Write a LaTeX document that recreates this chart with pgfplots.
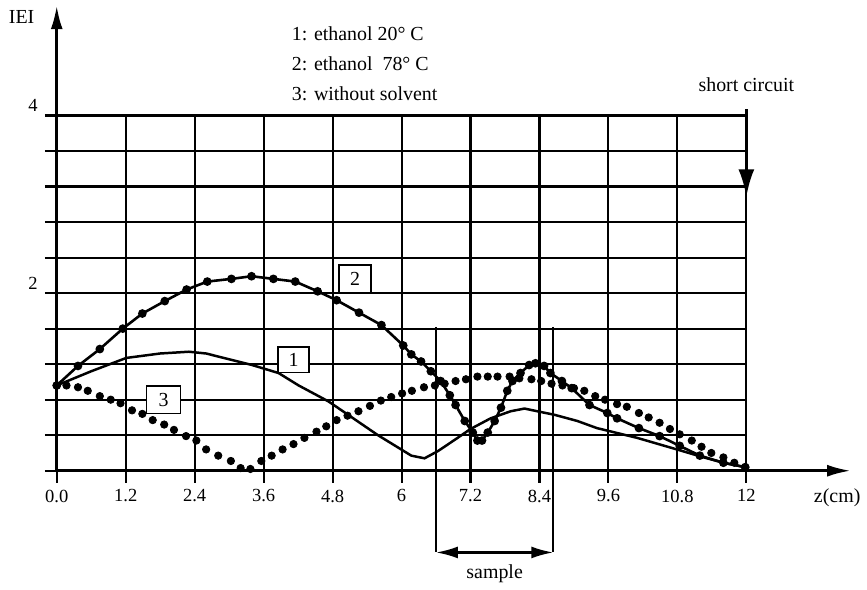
\documentclass[border=0pt]{standalone}
\usepackage{fontspec}
\setmainfont{Liberation Serif}
\usepackage{pgfplots}
\pgfplotsset{compat=1.18}
\usetikzlibrary{arrows.meta}
\newcommand\tf{\fontsize{10}{11.5}\selectfont}
\begin{document}
\begin{tikzpicture}
\begin{axis}[
 x=28.875pt, y=44.625pt,
 xmin=0,xmax=12,ymin=0,ymax=4,
 axis lines=left,
 axis line style={draw=none},
 clip=false,
 grid=major,
 major grid style={line width=1.05pt, black},
 xtick={0,1.2,2.4,3.6,4.8,6,7.2,8.4,9.6,10.8,12},
 xticklabels={0.0,1.2,2.4,3.6,4.8,6,7.2,8.4,9.6,10.8,12},
 ytick={0,0.4,0.8,1.2,1.6,2,2.4,2.8,3.2,3.6,4},
 yticklabels={,,,,,2,,,,,4},
 tick align=outside,
 major tick length=6pt,
 tick style={line width=1.05pt, black},
 ticklabel style={font=\fontsize{9.3}{10}\selectfont},
 yticklabel style={yshift=5pt},
 /pgf/number format/assume math mode=true,
]
% curve 1: ethanol 20 C
\addplot[black, line width=1.25pt] coordinates {
(0,0.96) (0.6,1.12) (1.21,1.27) (1.8,1.32) (2.30,1.34) (2.6,1.32) (3.4,1.19)
(3.86,1.10) (4.21,0.96) (4.73,0.78) (5.59,0.40) (6.17,0.17) (6.40,0.14)
(6.63,0.22) (6.93,0.35) (7.2,0.47) (7.55,0.59) (7.9,0.67) (8.14,0.70)
(8.36,0.67) (8.66,0.63) (9.06,0.56) (9.4,0.48) (10.1,0.37) (10.79,0.24)
(11.26,0.15) (11.6,0.09) (11.98,0.04)};
% curve 2: ethanol 78 C
\addplot[black, line width=1.3pt, mark=*, mark size=1.5pt] coordinates {
(0,0.96) (0.37,1.18) (0.75,1.37) (1.15,1.60) (1.49,1.77) (1.88,1.91) (2.26,2.04)
(2.62,2.13) (3.04,2.16) (3.39,2.19) (3.77,2.16) (4.15,2.13) (4.54,2.02) (4.87,1.92)
(5.26,1.78) (5.65,1.64) (6.03,1.41) (6.17,1.31) (6.34,1.23) (6.51,1.12) (6.68,1.01)
(6.84,0.85) (6.94,0.74) (7.10,0.56) (7.24,0.43) (7.32,0.34) (7.40,0.34) (7.50,0.43)
(7.62,0.56) (7.73,0.71) (7.84,0.90) (7.93,1.01) (8.07,1.10) (8.22,1.19) (8.33,1.21)
(8.48,1.18) (8.59,1.10) (8.79,1.01) (8.96,0.93) (9.27,0.74) (9.58,0.65) (9.75,0.59)
(10.13,0.48) (10.49,0.39) (10.84,0.28) (11.19,0.17) (11.6,0.09) (11.98,0.04)};
% curve 3: without solvent
\addplot[only marks, black, mark=*, mark size=1.85pt] coordinates {
(0,0.96) (0.17,0.96) (0.37,0.94) (0.54,0.90) (0.75,0.84) (0.94,0.80) (1.11,0.76)
(1.31,0.68) (1.49,0.64) (1.67,0.57) (1.87,0.52) (2.04,0.46) (2.25,0.39) (2.43,0.34)
(2.6,0.24) (2.81,0.17) (3.03,0.11) (3.2,0.03) (3.37,0.02) (3.56,0.11) (3.74,0.17)
(3.93,0.24) (4.12,0.30) (4.31,0.37) (4.52,0.44) (4.69,0.50) (4.87,0.57) (5.06,0.62)
(5.25,0.67) (5.45,0.73) (5.64,0.79) (5.82,0.83) (6.01,0.87) (6.18,0.90) (6.39,0.94)
(6.58,0.96) (6.75,0.98) (6.94,1.01) (7.12,1.03) (7.32,1.06) (7.50,1.06) (7.67,1.06)
(7.88,1.06) (8.05,1.04) (8.26,1.03) (8.43,1.01) (8.61,0.98) (8.80,0.96) (9.0,0.93)
(9.18,0.9) (9.37,0.84) (9.54,0.80) (9.75,0.75) (9.92,0.72) (10.13,0.65) (10.3,0.6)
(10.49,0.54) (10.67,0.47) (10.84,0.41) (11.05,0.34) (11.22,0.27) (11.39,0.20)
(11.6,0.15) (11.79,0.09) (11.98,0.04)};
% axes
\draw[line width=1.5pt, -{Latex[length=12pt,width=6pt]}] (axis cs:0,0) -- (axis cs:13.82,0);
\draw[line width=1.5pt, -{Latex[length=12pt,width=6pt]}] (axis cs:0,0) -- (axis cs:0,5.24);
\node[font=\tf] at (axis cs:-0.61,5.11) {IEI};
\node[font=\tf] at (axis cs:13.58,-0.30) {z(cm)};
% short circuit
\draw[line width=1.7pt, -{Latex[length=14pt,width=8pt]}] (axis cs:12,4.07) -- (axis cs:12,3.08);
\node[font=\tf] at (axis cs:12,4.35) {short circuit};
% sample
\draw[line width=1.1pt] (axis cs:6.60,1.62) -- (axis cs:6.60,-0.92);
\draw[line width=1.1pt] (axis cs:8.64,1.62) -- (axis cs:8.64,-0.92);
\draw[line width=1.1pt, {Latex[length=11pt,width=6pt]}-{Latex[length=11pt,width=6pt]}] (axis cs:6.60,-0.92) -- (axis cs:8.64,-0.92);
\node[font=\tf] at (axis cs:7.62,-1.165) {sample};
% legend text
\node[font=\tf, anchor=base west] at (axis cs:3.97,4.84) {1: ethanol 20° C};
\node[font=\tf, anchor=base west] at (axis cs:3.97,4.51) {2: ethanol\ \ 78° C};
\node[font=\tf, anchor=base west] at (axis cs:3.97,4.17) {3: without solvent};
% boxed labels
\node[font=\tf, draw, fill=white, line width=0.8pt, minimum width=16pt, minimum height=14pt, inner sep=1pt] at (axis cs:5.19,2.16) {2};
\node[font=\tf, draw, fill=white, line width=0.8pt, minimum width=15.5pt, minimum height=13pt, inner sep=1pt] at (axis cs:4.12,1.25) {1};
\node[font=\tf, draw, fill=white, line width=0.8pt, minimum width=17pt, minimum height=14pt, inner sep=1pt] at (axis cs:1.86,0.80) {3};
% bounding box
\path (axis cs:-0.987,-1.30) rectangle (axis cs:14.026,5.30);
\end{axis}
\end{tikzpicture}
\end{document}
